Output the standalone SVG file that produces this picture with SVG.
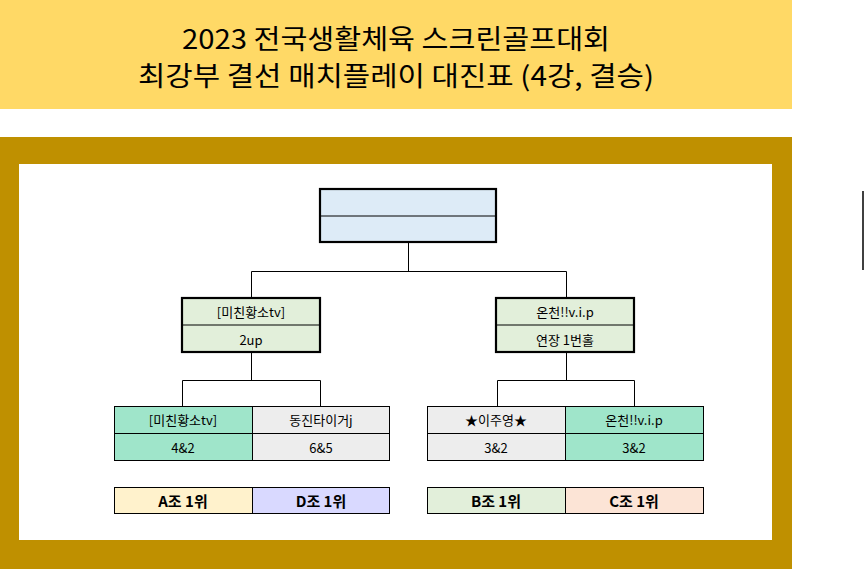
<svg xmlns="http://www.w3.org/2000/svg" width="864" height="569" viewBox="0 0 864 569">
<style>
text{font-family:"Malgun Gothic","Noto Sans CJK KR","Noto Sans",sans-serif;text-anchor:middle;dominant-baseline:central;fill:#000}
.title{font-size:27px}
.t{font-size:13px}
.b{font-size:15px;font-weight:bold}
.thick{stroke:#000;stroke-width:2.2}
.thin{stroke:#000;stroke-width:1}
.con{fill:none;stroke:#000;stroke-width:1}
</style>
<rect x="0" y="0" width="792" height="109" fill="#FFD966"/>
<text class="title" x="396" y="37" textLength="428" lengthAdjust="spacingAndGlyphs">2023 전국생활체육 스크린골프대회</text>
<text class="title" x="396" y="74" textLength="516" lengthAdjust="spacingAndGlyphs">최강부 결선 매치플레이 대진표 (4강, 결승)</text>
<rect x="0" y="137" width="792" height="432" fill="#BF9000"/>
<rect x="19" y="164" width="753" height="376" fill="#FFFFFF"/>
<line x1="863" y1="191" x2="863" y2="270" stroke="#000" stroke-width="1.5"/>
<g id="connectors">
<path class="con" d="M408.5 242V271.5M251.5 298V271.5H566.5V298"/>
<path class="con" d="M251.5 352V380.5M182.5 406V380.5H320.5V406"/>
<path class="con" d="M566.5 352V380.5M497.5 406V380.5H634.5V406"/>
</g>
<g id="final">
<rect class="thick" x="320" y="189" width="176" height="53" fill="#DDEBF7"/>
<line class="thin" x1="320" y1="216" x2="496" y2="216"/>
</g>
<g id="semi-left">
<rect class="thick" x="182" y="298" width="138" height="54" fill="#E2EFDA"/>
<line class="thin" x1="182" y1="325" x2="320" y2="325"/>
<text class="t" x="251" y="311.5">[미친황소tv]</text>
<text class="t" x="251" y="339">2up</text>
</g>
<g id="semi-right">
<rect class="thick" x="496" y="298" width="138" height="54" fill="#E2EFDA"/>
<line class="thin" x1="496" y1="325" x2="634" y2="325"/>
<text class="t" x="565" y="311.5">온천!!v.i.p</text>
<text class="t" x="565" y="339">연장 1번홀</text>
</g>
<g id="qf-a">
<rect class="thin" x="114.5" y="406.5" width="138" height="54" fill="#9FE5CA"/>
<line class="thin" x1="114.5" y1="433.5" x2="252.5" y2="433.5"/>
<text class="t" x="183" y="419.5">[미친황소tv]</text>
<text class="t" x="183" y="447">4&amp;2</text>
</g>
<g id="qf-d">
<rect class="thin" x="252.5" y="406.5" width="137" height="54" fill="#EDEDED"/>
<line class="thin" x1="252.5" y1="433.5" x2="389.5" y2="433.5"/>
<text class="t" x="321" y="419.5">동진타이거j</text>
<text class="t" x="321" y="447">6&amp;5</text>
</g>
<g id="qf-b">
<rect class="thin" x="427.5" y="406.5" width="138" height="54" fill="#EDEDED"/>
<line class="thin" x1="427.5" y1="433.5" x2="565.5" y2="433.5"/>
<text class="t" x="496" y="419.5">★이주영★</text>
<text class="t" x="496" y="447">3&amp;2</text>
</g>
<g id="qf-c">
<rect class="thin" x="565.5" y="406.5" width="138" height="54" fill="#9FE5CA"/>
<line class="thin" x1="565.5" y1="433.5" x2="703.5" y2="433.5"/>
<text class="t" x="634" y="419.5">온천!!v.i.p</text>
<text class="t" x="634" y="447">3&amp;2</text>
</g>
<g id="group-a">
<rect class="thin" x="114.5" y="487.5" width="138" height="26" fill="#FFF2CC"/>
<text class="b" x="183" y="500.5">A조 1위</text>
</g>
<g id="group-d">
<rect class="thin" x="252.5" y="487.5" width="137" height="26" fill="#D9D9FF"/>
<text class="b" x="321" y="500.5">D조 1위</text>
</g>
<g id="group-b">
<rect class="thin" x="427.5" y="487.5" width="138" height="26" fill="#E2EFDA"/>
<text class="b" x="496" y="500.5">B조 1위</text>
</g>
<g id="group-c">
<rect class="thin" x="565.5" y="487.5" width="138" height="26" fill="#FCE4D6"/>
<text class="b" x="634" y="500.5">C조 1위</text>
</g>
</svg>
